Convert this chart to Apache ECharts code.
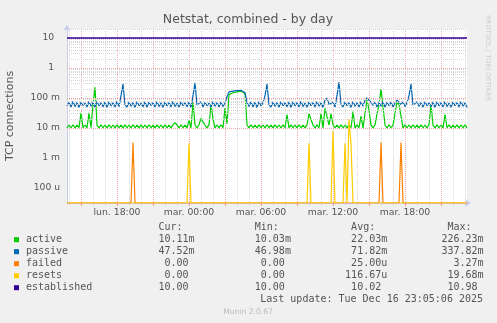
<!DOCTYPE html>
<html><head><meta charset="utf-8">
<script src="https://cdn.jsdelivr.net/npm/echarts@6/dist/echarts.min.js"></script>
<style>html,body{margin:0;padding:0;background:#f0f0f0;}#c{width:497px;height:323px;}</style>
</head><body><div id="c"></div>
<script>
// ---- data (10-minute samples, Mon 13:50 -> Tue 23:10) ----
const seriesNames = ['active', 'passive', 'failed', 'resets', 'established'];
const seriesColors = ['#00cc00', '#0066b3', '#ff8000', '#ffcc00', '#330099'];

const activeMilli = [
  10.1,12.6,10.2,12.8,10.1,12.5,10.2,32,10.3,12.6,
  10.1,32,10.2,60,226.23,12.5,10.1,12.8,10.2,12.6,
  10.1,12.7,10.2,12.6,10.1,12.8,10.2,12.5,10.1,12.7,
  10.2,12.6,10.1,12.8,10.2,12.5,10.1,12.7,10.2,12.6,
  10.1,12.8,10.2,12.5,10.1,12.7,10.2,12.6,10.1,12.8,
  10.2,12.5,10.1,12.7,15,12.6,10.1,12.8,10.2,12.5,
  10.1,18,10.2,75,12.6,10.1,12.8,21,16,12.6,
  10.1,12.7,60,20,10.2,12.6,10.1,12.8,10.2,46,
  14,130,120,150,135,160,145,170,150,140,
  12.6,10.1,12.8,10.2,12.5,10.1,12.7,10.2,12.6,10.1,
  12.8,10.2,12.5,10.1,12.7,10.2,12.6,10.1,12.8,10.2,
  28,10.1,12.7,10.2,12.6,10.1,12.8,10.2,12.5,10.1,
  12.7,30,30,12.6,10.1,12.8,10.2,30,10.1,45,
  42,12.6,30,12.8,10.2,12.5,10.1,12.7,10.2,12.6,
  10.1,12.8,10.2,35,10.1,12.7,10.2,25,10.1,30,
  86,40,12.5,10.1,12.7,29,60,200,50,12.6,
  10.1,12.8,10.2,12.5,30,75,60,25,10.1,12.7,
  10.2,12.6,10.1,12.8,10.2,12.5,10.1,12.7,10.2,12.6,
  10.1,12.8,62,12.5,10.1,12.7,10.2,12.6,10.1,28,
  10.2,12.8,10.1,12.5,10.2,12.7,10.1,12.6,10.2,12.8,
  10.1
];
const passiveMilli = [
  55,72,50,78,52,70,48,74,56,68,
  50,76,53,71,49,77,55,69,51,73,
  48,75,54,70,50,78,52,120,290,60,
  50,74,53,70,48,77,55,68,51,75,
  49,72,56,70,50,76,52,69,48,74,
  54,71,50,78,52,68,49,75,55,70,
  51,73,48,120,320,58,52,76,50,71,
  55,68,49,77,53,70,50,74,52,68,
  110,160,185,170,195,175,200,180,190,150,
  70,52,75,50,72,48,76,54,70,120,
  290,60,50,74,53,71,49,77,55,69,
  51,73,48,75,54,70,50,78,52,68,
  49,74,55,71,50,76,53,69,48,85,
  100,60,52,74,50,120,337.82,62,51,73,
  55,70,48,77,53,69,50,75,54,85,
  100,95,72,56,74,50,70,53,76,49,
  71,55,73,50,68,86,86,60,74,52,
  69,120,290,58,50,75,53,70,49,76,
  55,69,51,73,48,75,54,70,50,77,
  52,68,49,74,55,71,50,76,53,69,
  48
];
const failedMilli = [
  0,0,0,0,0,0,0,0,0,0,
  0,0,0,0,0,0,0,0,0,0,
  0,0,0,0,0,0,0,0,0,0,
  0,0,0,3.27,0,0,0,0,0,0,
  0,0,0,0,0,0,0,0,0,0,
  0,0,0,0,0,0,0,0,0,0,
  0,0,0,0,0,0,0,0,0,0,
  0,0,0,0,0,0,0,0,0,0,
  0,0,0,0,0,0,0,0,0,0,
  0,0,0,0,0,0,0,0,0,0,
  0,0,0,0,0,0,0,0,0,0,
  0,0,0,0,0,0,0,0,0,0,
  0,0,0,0,0,0,0,0,0,0,
  0,0,0,0,0,0,0,0,0,0,
  0,0,0,0,0,0,0,0,0,0,
  0,0,0,0,0,0,0,3.27,0,0,
  0,0,0,0,0,0,0,3.27,0,0,
  0,0,0,0,0,0,0,0,0,0,
  0,0,0,0,0,0,0,0,0,0,
  0,0,0,0,0,0,0,0,0,0,
  0
];
const resetsMilli = [
  0,0,0,0,0,0,0,0,0,0,
  0,0,0,0,0,0,0,0,0,0,
  0,0,0,0,0,0,0,0,0,0,
  0,0,0,0,0,0,0,0,0,0,
  0,0,0,0,0,0,0,0,0,0,
  0,0,0,0,0,0,0,0,0,0,
  0,3.1,0,0,0,0,0,0,0,0,
  0,0,0,0,0,0,0,0,0,0,
  0,0,0,0,0,0,0,0,0,0,
  0,0,0,0,0,0,0,0,0,0,
  0,0,0,0,0,0,0,0,0,0,
  0,0,0,0,0,0,0,0,0,0,
  0,3.1,0,0,0,0,0,0,0,0,
  0,0,0,8,0,0,0,0,0,3.1,
  0,19.68,3.1,0,0,0,0,0,0,0,
  0,0,0,0,0,0,0,0,0,0,
  0,0,0,0,0,0,0,0,0,0,
  0,0,0,0,0,0,0,0,0,0,
  0,0,0,0,0,0,0,0,0,0,
  0,0,0,0,0,0,0,0,0,0,
  0
];
const established = [
  10,10,10,10,10,10,10,10,10,10,
  10,10,10,10,10,10,10,10,10,10,
  10,10,10,10,10,10,10,10.98,10,10,
  10,10,10,10,10,10,10,10,10,10,
  10,10,10,10,10,10,10,10,10,10,
  10,10,10,10,10,10,10,10,10,10,
  10,10,10,10.98,10,10,10,10.98,10,10,
  10,10,10,10,10,10,10,10,10,10,
  10,10,10,10,10,10,10,10,10,10,
  10,10,10,10,10,10,10,10,10,10.98,
  10,10,10,10,10,10,10,10,10,10,
  10,10,10,10,10,10,10,10,10,10,
  10,10,10,10,10,10,10,10,10,10,
  10,10,10,10,10,10.98,10,10,10,10,
  10,10,10,10,10,10,10,10,10,10,
  10,10,10,10,10,10,10,10,10,10,
  10,10,10,10,10,10,10,10,10,10,
  10,10.98,10,10,10,10,10,10,10,10,
  10,10,10,10,10,10,10,10,10,10,
  10,10,10,10,10,10,10,10,10,10,
  10
];
const curText = ['10.11m', '47.52m', '0.00 ', '0.00 ', '10.00 '];
const minText = ['10.03m', '46.98m', '0.00 ', '0.00 ', '10.00 '];
const avgText = ['22.03m', '71.82m', '25.00u', '116.67u', '10.02 '];
const maxText = ['226.23m', '337.82m', '3.27m', '19.68m', '10.98 '];
const headerText = ['Cur:', 'Min:', 'Avg:', 'Max:'];
const yTickLabels = { '1': '10  ', '0': '1  ', '-1': '100 m', '-2': '10 m', '-3': '1 m', '-4': '100 u' };
const dayNames = ['lun.', 'mar.'];
const titleText = 'Netstat, combined - by day';
const yAxisTitle = 'TCP connections';
const lastUpdate = 'Last update: Tue Dec 16 23:05:06 2025';
const footerText = 'Munin 2.0.67';
const sideText = 'RRDTOOL / TOBI OETIKER';

// ---- axis categories ----
const startMinutes = 13 * 60 + 50, stepMinutes = 10;
const categories = [];
for (let i = 0; i < activeMilli.length; i++) {
  const t = startMinutes + i * stepMinutes;
  const d = Math.floor(t / 1440), h = Math.floor((t % 1440) / 60), m = t % 60;
  categories.push(dayNames[d] + ' ' + String(h).padStart(2, '0') + ':' + String(m).padStart(2, '0'));
}
const minuteOf = i => (startMinutes + i * stepMinutes) % 60;
const hourOf = i => Math.floor(((startMinutes + i * stepMinutes) % 1440) / 60);

const yMin = Math.pow(10, -4.5), yMax = Math.pow(10, 1.3);
const toVal = v => v > 0 ? v / 1000 : yMin;

// horizontal grid (log decades + minor 2..9)
const gridLines = [];
for (let e = -5; e <= 1; e++) {
  for (let k = 1; k <= 9; k++) {
    const v = k * Math.pow(10, e);
    if (v < yMin * 1.001 || v > yMax) continue;
    gridLines.push({ yAxis: v, lineStyle: { color: k === 1 ? '#f2a6a6' : '#d6d6d6', type: [1, 1], width: 1 } });
  }
}
gridLines.push({ yAxis: yMax, lineStyle: { color: '#d6d6d6', type: [1, 1], width: 1 } });

const mono = '"DejaVu Sans Mono", monospace';
const sans = '"DejaVu Sans", sans-serif';

function buildRow(label, vals) {
  let s = label;
  vals.forEach((v, k) => { const end = 27 + 16 * k; s = s.padEnd(end + 1 - v.length) + v; });
  return s;
}
let header = '';
headerText.forEach((h, k) => { header = header.padEnd(22 + 16 * k) + h; });

const graphics = [
  { type: 'text', x: 248, y: 19.5, style: { text: titleText, font: '12.5px ' + sans, fill: '#555', align: 'center', verticalAlign: 'middle' } },
  { type: 'text', x: 10, y: 116, rotation: Math.PI / 2, style: { text: yAxisTitle, font: '11px ' + sans, fill: '#555', align: 'center', verticalAlign: 'middle' } },
  { type: 'text', x: 487.5, y: 58, rotation: -Math.PI / 2, style: { text: sideText, font: '6.7px ' + sans, fill: '#cccccc', align: 'center', verticalAlign: 'middle' } },
  { type: 'text', x: 26, y: 227.7, style: { text: header, font: '10px ' + mono, fill: '#555', align: 'left', verticalAlign: 'middle' } },
  { type: 'text', x: 483, y: 299.7, style: { text: lastUpdate, font: '10px ' + mono, fill: '#555', align: 'right', verticalAlign: 'middle' } },
  { type: 'text', x: 248, y: 312.3, style: { text: footerText, font: '7.6px ' + sans, fill: '#bbbbbb', align: 'center', verticalAlign: 'middle' } }
];
seriesNames.forEach((n, r) => {
  const y = 239.7 + 12 * r;
  graphics.push({ type: 'rect', shape: { x: 14, y: y - 2.5, width: 5, height: 5 }, style: { fill: seriesColors[r] } });
  graphics.push({ type: 'text', x: 26, y: y, style: { text: buildRow(n, [curText[r], minText[r], avgText[r], maxText[r]]), font: '10px ' + mono, fill: '#555', align: 'left', verticalAlign: 'middle' } });
});

const seriesData = [
  activeMilli.map(toVal),
  passiveMilli.map(toVal),
  failedMilli.map(toVal),
  resetsMilli.map(toVal),
  established.slice()
];
const lineWidths = [1.2, 1.2, 1.2, 1.2, 1.4];

const chart = echarts.init(document.getElementById('c'), null, { renderer: 'canvas' });
chart.setOption({
  animation: false,
  backgroundColor: '#f0f0f0',
  grid: { left: 67, right: 30, top: 29, bottom: 120, show: true, backgroundColor: '#ffffff', borderWidth: 0 },
  graphic: graphics,
  xAxis: [
    {
      type: 'category', data: categories, boundaryGap: false,
      axisLine: { show: true, lineStyle: { color: '#c4ccee', width: 1 }, symbol: ['none', 'arrow'], symbolSize: [6, 6], symbolOffset: [0, 4] },
      axisTick: { show: true, length: 2, interval: i => minuteOf(i) === 0, lineStyle: { color: '#cccccc' } },
      axisLabel: { interval: i => minuteOf(i) === 0 && hourOf(i) % 6 === 0, color: '#555', fontSize: 9.3, fontFamily: sans, margin: 5 },
      splitLine: { show: true, interval: i => minuteOf(i) === 0, lineStyle: { color: '#d6d6d6', type: [1, 1], width: 1 } }
    },
    {
      type: 'category', data: categories, boundaryGap: false, position: 'bottom',
      axisLine: { show: false },
      axisTick: { show: true, length: 3, interval: i => minuteOf(i) === 0 && hourOf(i) % 3 === 0, lineStyle: { color: '#f09090' } },
      axisLabel: { show: false },
      splitLine: { show: true, interval: i => minuteOf(i) === 0 && hourOf(i) % 3 === 0, lineStyle: { color: '#f2a6a6', type: [1, 1], width: 1 } }
    }
  ],
  yAxis: {
    type: 'log', logBase: 10, min: yMin, max: yMax,
    axisLine: { show: true, lineStyle: { color: '#c4ccee', width: 1 }, symbol: ['none', 'arrow'], symbolSize: [6, 6], symbolOffset: [0, 4] },
    axisTick: { show: false },
    splitLine: { show: false },
    axisLabel: {
      color: '#555', fontSize: 9.2, fontFamily: sans, margin: 7,
      formatter: v => { const e = Math.log10(v); const r = Math.round(e); if (Math.abs(e - r) > 1e-6) return ''; return yTickLabels[String(r)] || ''; }
    }
  },
  series: [
    {
      name: 'grid', type: 'line', data: [], z: 1, silent: true,
      markLine: { silent: true, symbol: ['none', 'none'], label: { show: false }, animation: false, data: gridLines }
    }
  ].concat(seriesNames.map((n, k) => ({
    name: n, type: 'line', data: seriesData[k], showSymbol: false, symbol: 'none', z: 2 + k,
    lineStyle: { color: seriesColors[k], width: lineWidths[k] }, itemStyle: { color: seriesColors[k] }, silent: true
  })))
});
</script>
</body></html>
